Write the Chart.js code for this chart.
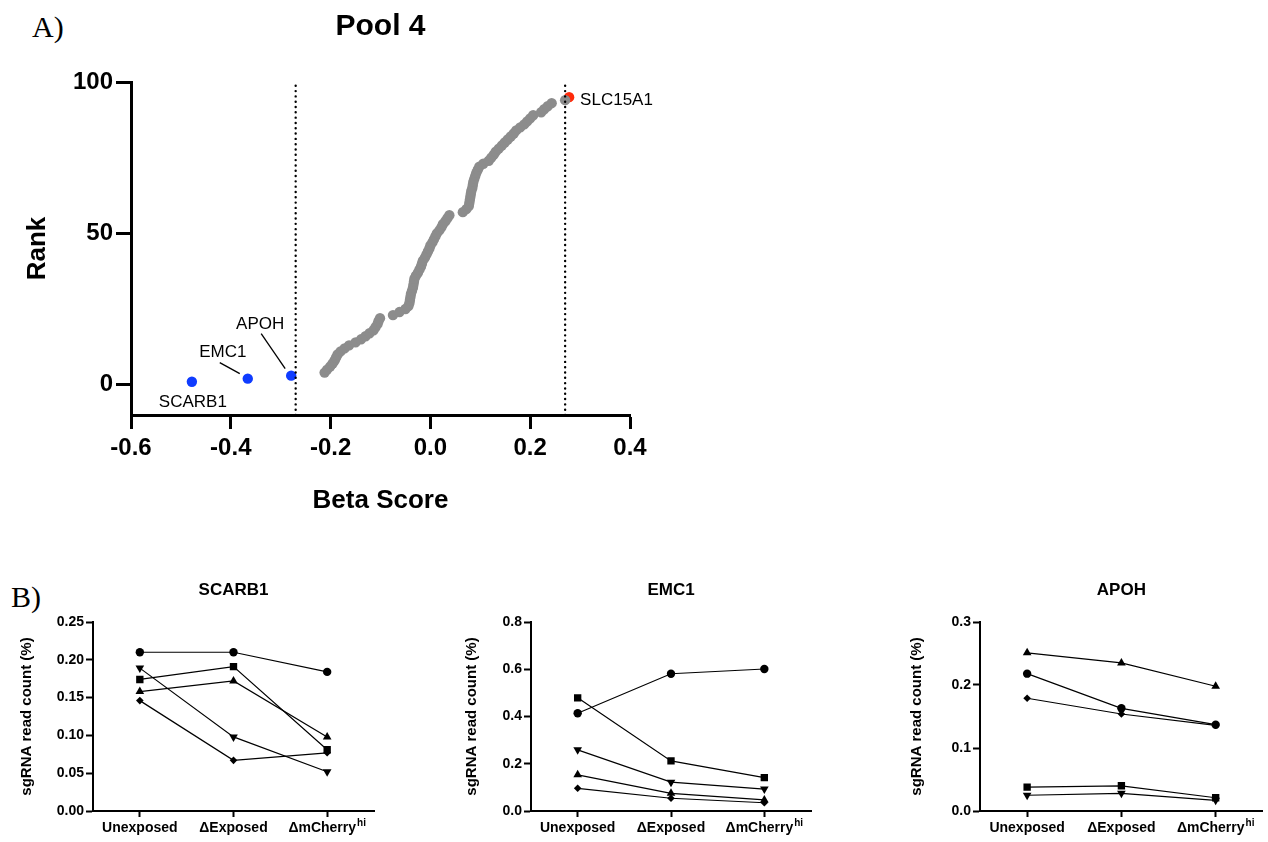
<!DOCTYPE html>
<html>
<head>
<meta charset="utf-8">
<script src="https://cdn.jsdelivr.net/npm/chart.js@4.4.1/dist/chart.umd.min.js"></script>
<style>
  html, body { margin: 0; padding: 0; background: #fff; width: 1268px; height: 842px; overflow: hidden; }
  .panel { position: absolute; font-family: "Liberation Serif", "Times New Roman", serif; font-size: 30px; line-height: 30px; color: #000; }
  canvas { position: absolute; }
</style>
</head>
<body>
<div class="panel" style="left:32px;top:12px">A)</div>
<div class="panel" style="left:11px;top:582px">B)</div>
<canvas id="poolChart" style="left:0px;top:0px" width="700" height="530"></canvas>
<canvas id="scarb1Chart" style="left:0px;top:570px" width="390" height="272"></canvas>
<canvas id="emc1Chart" style="left:438px;top:570px" width="390" height="272"></canvas>
<canvas id="apohChart" style="left:887px;top:570px" width="381" height="272"></canvas>
<script>
// ---- Panel A: Pool 4 rank plot ----
const poolTitle = "Pool 4";
const hitGenes = ["SCARB1", "EMC1", "APOH"];
const hitBeta = [-0.478, -0.366, -0.279];
const hitRank = [1, 2, 3];
const topGene = "SLC15A1";
const topBeta = 0.278;
const topRank = 95;
// beta scores of the remaining genes, in rank order (ranks 4..94)
const otherBeta = [
  -0.212, -0.207, -0.201, -0.196, -0.192, -0.189, -0.186, -0.180, -0.172, -0.163,
  -0.150, -0.139, -0.130, -0.122, -0.114, -0.110, -0.106, -0.104, -0.101, -0.075,
  -0.062, -0.050, -0.044, -0.042, -0.041, -0.040, -0.039, -0.037, -0.035, -0.034,
  -0.033, -0.032, -0.029, -0.025, -0.022, -0.019, -0.017, -0.015, -0.011, -0.008,
  -0.005, -0.002, 0.000, 0.004, 0.007, 0.010, 0.013, 0.018, 0.022, 0.025,
  0.030, 0.034, 0.038, 0.065, 0.072, 0.077, 0.078, 0.079, 0.080, 0.081,
  0.082, 0.084, 0.085, 0.086, 0.088, 0.090, 0.092, 0.095, 0.098, 0.106,
  0.117, 0.122, 0.127, 0.131, 0.137, 0.143, 0.149, 0.155, 0.161, 0.167,
  0.172, 0.180, 0.188, 0.194, 0.200, 0.206, 0.222, 0.228, 0.235, 0.243,
  0.270
];
const cutoffs = [-0.27, 0.27];
const betaTicks = [-0.6, -0.4, -0.2, 0.0, 0.2, 0.4];
const rankTicks = [0, 50, 100];

// ---- Panel B: sgRNA read counts ----
const conditions = ["Unexposed", "ΔExposed", "ΔmCherry^hi"];
const scarb1Circle = [0.210, 0.210, 0.184];
const scarb1Square = [0.174, 0.191, 0.081];
const scarb1Up = [0.158, 0.172, 0.098];
const scarb1Down = [0.189, 0.098, 0.052];
const scarb1Diamond = [0.146, 0.067, 0.077];
const emc1Circle = [0.414, 0.581, 0.601];
const emc1Square = [0.479, 0.212, 0.141];
const emc1Up = [0.153, 0.075, 0.047];
const emc1Down = [0.259, 0.122, 0.093];
const emc1Diamond = [0.096, 0.054, 0.035];
const apohCircle = [0.218, 0.163, 0.137];
const apohSquare = [0.038, 0.040, 0.021];
const apohUp = [0.251, 0.235, 0.198];
const apohDown = [0.025, 0.028, 0.017];
const apohDiamond = [0.179, 0.154, 0.136];
const scarb1Ticks = [0, 0.05, 0.10, 0.15, 0.20, 0.25];
const emc1Ticks = [0, 0.2, 0.4, 0.6, 0.8];
const apohTicks = [0, 0.1, 0.2, 0.3];

const sans = '"Liberation Sans", Arial, Helvetica, sans-serif';
Chart.defaults.font.family = sans;
Chart.defaults.color = "#000";

// label placement relative to each hit point (px)
const hitLabelLayout = [
  { dx: 1, dy: 21, line: null },
  { dx: -25, dy: -26, line: [-28, -16, -8, -5] },
  { dx: -31, dy: -51, line: [-30, -42, -6, -7] }
];

const poolText = {
  id: "poolText",
  afterDatasetsDraw(chart) {
    const ctx = chart.ctx;
    const area = chart.chartArea;
    ctx.save();
    ctx.fillStyle = "#000";
    ctx.strokeStyle = "#000";
    ctx.lineWidth = 1.3;
    ctx.font = "bold 30px " + sans;
    ctx.textAlign = "center";
    ctx.textBaseline = "middle";
    ctx.fillText(poolTitle, (area.left + area.right) / 2, 27);

    ctx.font = "17px " + sans;
    chart.getDatasetMeta(3).data.forEach((pt, i) => {
      const lay = hitLabelLayout[i];
      ctx.textAlign = "center";
      ctx.fillText(hitGenes[i], pt.x + lay.dx, pt.y + lay.dy);
      if (lay.line) {
        ctx.beginPath();
        ctx.moveTo(pt.x + lay.line[0], pt.y + lay.line[1]);
        ctx.lineTo(pt.x + lay.line[2], pt.y + lay.line[3]);
        ctx.stroke();
      }
    });
    const top = chart.getDatasetMeta(4).data[0];
    ctx.textAlign = "left";
    ctx.fillText(topGene, top.x + 11, top.y + 3);
    ctx.restore();
  }
};

new Chart(document.getElementById("poolChart"), {
  type: "scatter",
  data: {
    datasets: [
      {
        type: "line",
        data: [{ x: cutoffs[0], y: -10 }, { x: cutoffs[0], y: 100 }],
        borderColor: "#000",
        borderWidth: 2.4,
        borderDash: [0.01, 5.3],
        borderCapStyle: "round",
        pointRadius: 0
      },
      {
        type: "line",
        data: [{ x: cutoffs[1], y: -10 }, { x: cutoffs[1], y: 100 }],
        borderColor: "#000",
        borderWidth: 2.4,
        borderDash: [0.01, 5.3],
        borderCapStyle: "round",
        pointRadius: 0
      },
      {
        data: otherBeta.map((b, i) => ({ x: b, y: hitRank.length + i + 1 })),
        pointRadius: 5.2,
        pointBackgroundColor: "#8c8c8c",
        pointBorderWidth: 0
      },
      {
        data: hitBeta.map((b, i) => ({ x: b, y: hitRank[i] })),
        pointRadius: 5.2,
        pointBackgroundColor: "#0f3cff",
        pointBorderWidth: 0
      },
      {
        data: [{ x: topBeta, y: topRank }],
        pointRadius: 5.2,
        pointBackgroundColor: "#ff2a0a",
        pointBorderWidth: 0
      }
    ]
  },
  options: {
    responsive: false,
    animation: false,
    layout: { padding: { left: 0, top: 82, right: 70, bottom: 0 } },
    plugins: { legend: { display: false }, tooltip: { enabled: false } },
    scales: {
      x: {
        type: "linear",
        min: -0.6,
        max: 0.4,
        afterBuildTicks: scale => { scale.ticks = betaTicks.map(v => ({ value: v })); },
        afterFit: scale => { scale.height = 115; },
        ticks: {
          font: { size: 24, weight: "bold" },
          color: "#000",
          padding: 5,
          callback: v => (Math.abs(v) < 1e-9 ? 0 : v).toFixed(1)
        },
        grid: { drawOnChartArea: false, drawTicks: true, tickLength: 14, tickWidth: 3, tickColor: "#000" },
        border: { color: "#000", width: 3 },
        title: {
          display: true,
          text: "Beta Score",
          font: { size: 26, weight: "bold" },
          color: "#000",
          padding: { top: 0, bottom: 14 }
        }
      },
      y: {
        type: "linear",
        min: -10,
        max: 100,
        afterBuildTicks: scale => { scale.ticks = rankTicks.map(v => ({ value: v })); },
        afterFit: scale => { scale.width = 131; },
        ticks: { font: { size: 24, weight: "bold" }, color: "#000", padding: 3 },
        grid: { drawOnChartArea: false, drawTicks: true, tickLength: 15, tickWidth: 3, tickColor: "#000" },
        border: { color: "#000", width: 3 },
        title: {
          display: true,
          text: "Rank",
          font: { size: 26, weight: "bold" },
          color: "#000",
          padding: { top: 22, bottom: 0 }
        }
      }
    }
  },
  plugins: [poolText]
});

// ---- Panel B charts ----
const guideMarkers = ["circle", "rect", "triangle", "triangle", "rectRot"];
const guideRotations = [0, 0, 0, 180, 0];
const guideRadii = [4.2, 5.2, 5, 5, 3.8];

const guideText = {
  id: "guideText",
  afterDraw(chart, args, opts) {
    const ctx = chart.ctx;
    const area = chart.chartArea;
    const xs = chart.scales.x;
    ctx.save();
    ctx.fillStyle = "#000";
    ctx.textBaseline = "middle";
    ctx.textAlign = "center";
    ctx.font = "bold 17px " + sans;
    ctx.fillText(opts.title, (area.left + area.right) / 2, area.top - 32);

    const y = area.bottom + 17;
    conditions.forEach((label, i) => {
      const parts = label.split("^");
      const cx = xs.getPixelForValue(i);
      ctx.font = "bold 14px " + sans;
      const w1 = ctx.measureText(parts[0]).width;
      let w2 = 0;
      if (parts[1]) {
        ctx.font = "bold 10px " + sans;
        w2 = ctx.measureText(parts[1]).width + 1;
      }
      const x0 = cx - (w1 + w2) / 2;
      ctx.textAlign = "left";
      ctx.font = "bold 14px " + sans;
      ctx.fillText(parts[0], x0, y);
      if (parts[1]) {
        ctx.font = "bold 10px " + sans;
        ctx.fillText(parts[1], x0 + w1 + 1, y - 5);
      }
    });
    ctx.restore();
  }
};

function makeGuideChart(canvasId, gene, series, yTicks, decimals, titlePad, plotWidth) {
  const canvas = document.getElementById(canvasId);
  return new Chart(canvas, {
    type: "line",
    data: {
      labels: conditions,
      datasets: series.map((values, i) => ({
        data: values,
        borderColor: "#000",
        borderWidth: 1.2,
        tension: 0,
        fill: false,
        pointStyle: guideMarkers[i],
        rotation: guideRotations[i],
        pointRadius: guideRadii[i],
        pointBackgroundColor: "#000",
        pointBorderColor: "#000",
        pointBorderWidth: 0
      }))
    },
    options: {
      responsive: false,
      animation: false,
      layout: { padding: { left: 0, top: 52, right: canvas.width - 93 - plotWidth, bottom: 0 } },
      plugins: {
        legend: { display: false },
        tooltip: { enabled: false },
        guideText: { title: gene }
      },
      scales: {
        x: {
          type: "category",
          offset: true,
          afterFit: scale => { scale.height = 31; },
          ticks: { display: false },
          grid: { offset: false, drawOnChartArea: false, drawTicks: true, tickLength: 6, tickWidth: 2, tickColor: "#000" },
          border: { color: "#000", width: 2 }
        },
        y: {
          type: "linear",
          min: 0,
          max: yTicks[yTicks.length - 1],
          afterBuildTicks: scale => { scale.ticks = yTicks.map(v => ({ value: v })); },
          afterFit: scale => { scale.width = 93; },
          ticks: {
            font: { size: 14, weight: "bold" },
            color: "#000",
            padding: 2,
            callback: v => v.toFixed(decimals)
          },
          grid: { drawOnChartArea: false, drawTicks: true, tickLength: 7, tickWidth: 2, tickColor: "#000" },
          border: { color: "#000", width: 2 },
          title: {
            display: true,
            text: "sgRNA read count (%)",
            font: { size: 15, weight: "bold" },
            color: "#000",
            padding: { top: titlePad, bottom: 0 }
          }
        }
      }
    },
    plugins: [guideText]
  });
}

makeGuideChart("scarb1Chart", "SCARB1",
  [scarb1Circle, scarb1Square, scarb1Up, scarb1Down, scarb1Diamond],
  scarb1Ticks, 2, 18, 281);
makeGuideChart("emc1Chart", "EMC1",
  [emc1Circle, emc1Square, emc1Up, emc1Down, emc1Diamond],
  emc1Ticks, 1, 25, 280);
makeGuideChart("apohChart", "APOH",
  [apohCircle, apohSquare, apohUp, apohDown, apohDiamond],
  apohTicks, 1, 21, 285);
</script>
</body>
</html>
